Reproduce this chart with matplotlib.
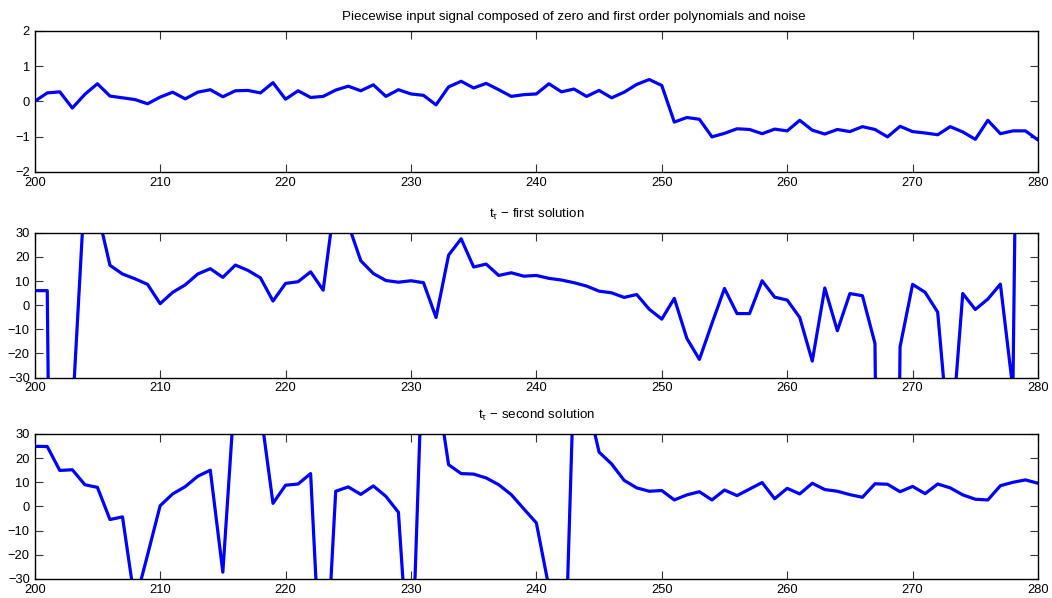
import matplotlib
matplotlib.use('Agg')
import matplotlib.pyplot as plt
import numpy as np

plt.rcParams['font.family'] = ['Liberation Sans', 'DejaVu Sans']
plt.rcParams['mathtext.fontset'] = 'custom'
plt.rcParams['mathtext.rm'] = 'Liberation Sans'
plt.rcParams['mathtext.it'] = 'Liberation Sans'

# samples 200..280
t = np.arange(200, 281)

# input signal
signal = [0.0, 0.24, 0.27, -0.19, 0.2, 0.5, 0.15, 0.1, 0.05, -0.07,
          0.12, 0.26, 0.07, 0.26, 0.33, 0.13, 0.3, 0.31, 0.24, 0.53,
          0.06, 0.3, 0.11, 0.14, 0.32, 0.43, 0.3, 0.47, 0.14, 0.33,
          0.21, 0.17, -0.1, 0.41, 0.57, 0.38, 0.51, 0.33, 0.14, 0.19,
          0.21, 0.5, 0.27, 0.35, 0.14, 0.31, 0.1, 0.26, 0.48, 0.62,
          0.45, -0.59, -0.46, -0.51, -1.01, -0.91, -0.78, -0.8, -0.92, -0.79,
          -0.84, -0.54, -0.82, -0.93, -0.8, -0.86, -0.72, -0.8, -1.01, -0.71,
          -0.86, -0.9, -0.95, -0.72, -0.87, -1.08, -0.54, -0.92, -0.84, -0.84,
          -1.1]

# first solution
first = [6, 6, -500, -45, 49, 39, 16.5, 12.9, 10.9, 8.6,
         0.6, 5.3, 8.4, 12.9, 15.1, 11.5, 16.6, 14.4, 11.3, 1.7,
         9.0, 9.7, 13.8, 6.2, 46, 33.5, 18.4, 13.1, 10.2, 9.5,
         10.1, 9.3, -5.1, 20.7, 27.5, 15.8, 17.0, 12.3, 13.4, 12.0,
         12.3, 11.1, 10.4, 9.3, 7.9, 5.8, 5.1, 3.2, 4.4, -1.7,
         -5.8, 2.8, -13.8, -22.5, -7.6, 6.9, -3.5, -3.5, 10.1, 3.3,
         2.1, -5.1, -23.2, 7.1, -10.6, 4.8, 3.9, -15.9, -500, -17.3,
         8.6, 5.3, -2.9, -62, 4.8, -1.8, 2.5, 8.7, -35, 400,
         200]

# second solution
second = [24.9, 24.8, 14.9, 15.2, 9.0, 7.9, -5.4, -4.3, -40, -20,
          0.3, 5.2, 8.2, 12.5, 15.0, -27.2, 51, 60, 40, 1.3,
          8.8, 9.3, 13.6, -90, 6.3, 8.1, 5.0, 8.5, 4.2, -2.4,
          -80, 75, 52, 17.3, 13.6, 13.4, 11.8, 9.0, 4.9, -1.0,
          -6.8, -33.5, -116, 56, 45, 22.5, 17.6, 10.8, 7.7, 6.3,
          6.6, 2.7, 4.8, 6.1, 2.7, 6.8, 4.5, 7.2, 9.9, 3.2,
          7.5, 5.2, 9.6, 7.0, 6.3, 4.9, 3.8, 9.4, 9.2, 6.1,
          8.3, 5.3, 9.3, 7.7, 4.8, 3.0, 2.7, 8.6, 10.0, 11.0,
          9.6]

titles = ['Piecewise input signal composed of zero and first order polynomials and noise',
          't$_\\tau$ \u2212 first solution',
          't$_\\tau$ \u2212 second solution']
series = [signal, first, second]
ylims = [(-2, 2), (-30, 30), (-30, 30)]
yticks = [np.arange(-2, 3, 1), np.arange(-30, 31, 10), np.arange(-30, 31, 10)]
title_x = [0.537, 0.5, 0.5]
title_pad = [8, 11, 11]

fig = plt.figure(figsize=(10.52, 5.98), dpi=100)

# axes boxes in figure fraction (left, bottom, width, height)
boxes = [(0.0330, 0.7129, 0.9537, 0.2353),
         (0.0330, 0.3687, 0.9537, 0.2421),
         (0.0330, 0.0318, 0.9537, 0.2425)]

for box, y, ttl, yl, yt, tx, tp in zip(boxes, series, titles, ylims, yticks,
                                       title_x, title_pad):
    ax = fig.add_axes(box)
    ax.plot(t, y, color='#0000ff', lw=2.3)
    ax.set_xlim(200, 280)
    ax.set_ylim(*yl)
    ax.set_xticks(np.arange(200, 281, 10))
    ax.set_yticks(yt)
    ax.tick_params(direction='in', length=6, width=0.8, labelsize=9.3,
                   top=True, right=True, pad=3.5, color='#333333')
    for sp in ax.spines.values():
        sp.set_linewidth(1.0)
    ax.set_title(ttl, fontsize=9.6, pad=tp, x=tx)

fig.savefig('out.png', dpi=100)
